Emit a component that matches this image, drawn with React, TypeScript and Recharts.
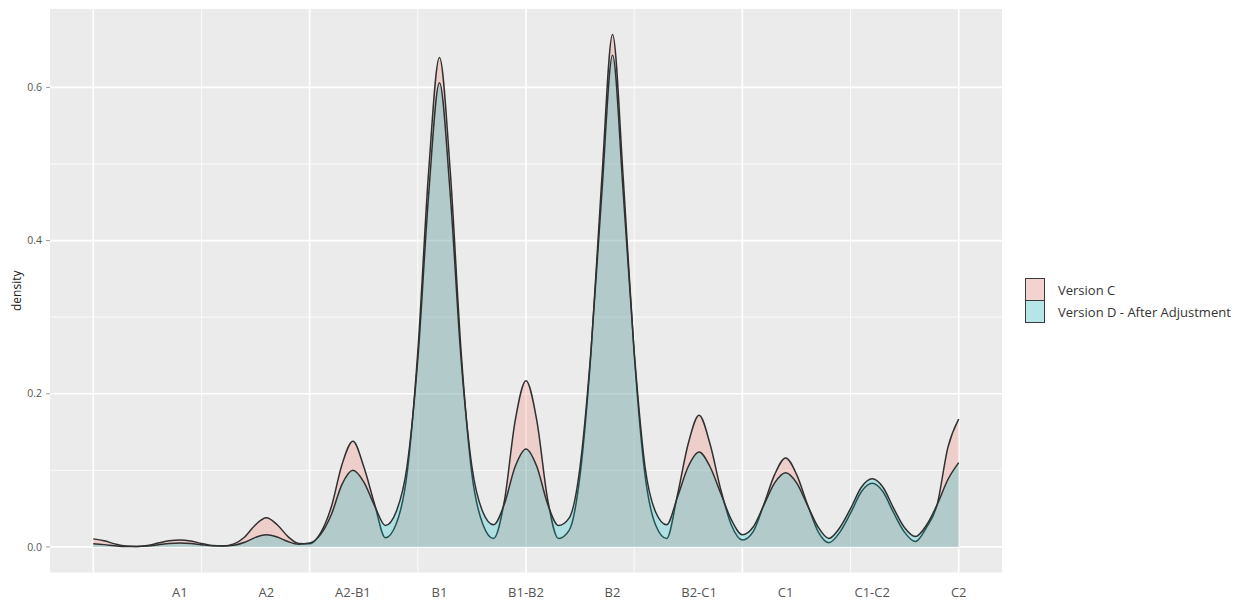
import React from "react";
import {
  Area,
  AreaChart,
  CartesianGrid,
  Label,
  Legend,
  XAxis,
  YAxis,
} from "recharts";

const FONT = '"Open Sans", "DejaVu Sans", sans-serif';
const FILL_ALPHA = 0.25;

// density grid, in category units (A1 = 1 ... C2 = 10)
const xGrid = [
  0, 0.125, 0.25, 0.375, 0.5, 0.625, 0.75, 0.875,
  1, 1.125, 1.25, 1.375, 1.5, 1.625, 1.75, 1.875,
  2, 2.125, 2.25, 2.375, 2.5, 2.625, 2.75, 2.875,
  3, 3.125, 3.25, 3.375, 3.5, 3.625, 3.75, 3.875,
  4, 4.125, 4.25, 4.375, 4.5, 4.625, 4.75, 4.875,
  5, 5.125, 5.25, 5.375, 5.5, 5.625, 5.75, 5.875,
  6, 6.125, 6.25, 6.375, 6.5, 6.625, 6.75, 6.875,
  7, 7.125, 7.25, 7.375, 7.5, 7.625, 7.75, 7.875,
  8, 8.125, 8.25, 8.375, 8.5, 8.625, 8.75, 8.875,
  9, 9.125, 9.25, 9.375, 9.5, 9.625, 9.75, 9.875,
  10,
];

const versionC = [
  0.0105, 0.008, 0.004, 0.0012, 0.0006, 0.002, 0.005, 0.008,
  0.0092, 0.0078, 0.0045, 0.0018, 0.0012, 0.004, 0.013, 0.029,
  0.038, 0.029, 0.0135, 0.0045, 0.004, 0.018, 0.052, 0.108,
  0.138, 0.105, 0.056, 0.012, 0.03, 0.095, 0.255, 0.49,
  0.639, 0.49, 0.255, 0.095, 0.03, 0.011, 0.06, 0.165,
  0.217, 0.165, 0.062, 0.011, 0.022, 0.094, 0.252, 0.479,
  0.669, 0.479, 0.252, 0.094, 0.028, 0.011, 0.068, 0.135,
  0.172, 0.135, 0.075, 0.028, 0.009, 0.02, 0.056, 0.095,
  0.116, 0.095, 0.056, 0.02, 0.0055, 0.019, 0.044, 0.072,
  0.083, 0.072, 0.044, 0.019, 0.007, 0.025, 0.055, 0.13,
  0.167,
];

const versionD = [
  0.004, 0.003, 0.0015, 0.0006, 0.0006, 0.0012, 0.0028, 0.0045,
  0.0052, 0.0045, 0.0028, 0.0014, 0.0012, 0.0022, 0.006, 0.0125,
  0.016, 0.013, 0.007, 0.0035, 0.005, 0.016, 0.042, 0.082,
  0.1, 0.085, 0.054, 0.028, 0.046, 0.105, 0.245, 0.46,
  0.606, 0.46, 0.245, 0.105, 0.046, 0.029, 0.056, 0.105,
  0.128, 0.105, 0.056, 0.028, 0.038, 0.105, 0.255, 0.46,
  0.642, 0.46, 0.255, 0.105, 0.045, 0.029, 0.065, 0.105,
  0.124, 0.105, 0.07, 0.035, 0.016, 0.026, 0.055, 0.084,
  0.097, 0.084, 0.055, 0.026, 0.011, 0.025, 0.05, 0.078,
  0.089, 0.078, 0.05, 0.025, 0.0135, 0.028, 0.055, 0.088,
  0.11,
];

const categories = ["A1", "A2", "A2-B1", "B1", "B1-B2", "B2", "B2-C1", "C1", "C1-C2", "C2"];
const categoryTicks = [1, 2, 3, 4, 5, 6, 7, 8, 9, 10];
const majorXBreaks = [0, 2.5, 5, 7.5, 10];
const minorXBreaks = [1.25, 3.75, 6.25, 8.75];
const yTicks = [0, 0.2, 0.4, 0.6];
const minorYBreaks = [0.1, 0.3, 0.5];

const xDomain = [-0.5, 10.5];
const yDomain = [-0.0334, 0.7024];

const seriesInfo = [
  { key: "versionC", name: "Version C", color: "#F8766D" },
  { key: "versionD", name: "Version D - After Adjustment", color: "#00BFC4" },
];

const data = xGrid.map((c, i) => ({
  c,
  versionC: versionC[i],
  versionD: versionD[i],
}));

function LegendBox() {
  return (
    <div style={{ fontFamily: FONT, fontSize: 13, color: "#333" }}>
      {seriesInfo.map((s, i) => (
        <div
          key={s.key}
          style={{
            display: "flex",
            alignItems: "center",
            height: 23,
            marginTop: i === 0 ? 0 : -1,
          }}
        >
          <div
            style={{
              position: "relative",
              width: 20,
              height: 23,
              boxSizing: "border-box",
              border: "1.3px solid #3a3a3a",
              background: "#F2F2F2",
            }}
          >
            <div
              style={{
                position: "absolute",
                inset: 0,
                background: s.color,
                opacity: FILL_ALPHA,
              }}
            />
          </div>
          <span style={{ marginLeft: 13, whiteSpace: "nowrap" }}>{s.name}</span>
        </div>
      ))}
    </div>
  );
}

export default function App() {
  return (
    <div
      style={{
        position: "absolute",
        left: 0,
        top: 0,
        width: 1246,
        height: 603,
        background: "#fff",
        fontFamily: FONT,
      }}
    >
      <AreaChart
        width={1246}
        height={603}
        data={data}
        margin={{ top: 9, right: 244, bottom: 0.5, left: 8 }}
      >
        <CartesianGrid
          xAxisId="cat"
          fill="#EBEBEB"
          stroke="#ffffff"
          strokeWidth={0.8}
          horizontalValues={minorYBreaks}
          verticalValues={minorXBreaks}
        />
        <CartesianGrid
          xAxisId="cat"
          fill="none"
          stroke="#ffffff"
          strokeWidth={1.6}
          horizontalValues={yTicks}
          verticalValues={majorXBreaks}
        />
        <XAxis
          xAxisId="marks"
          dataKey="c"
          type="number"
          domain={xDomain}
          ticks={majorXBreaks}
          tickFormatter={() => ""}
          axisLine={false}
          tickLine={{ stroke: "#9a9a9a" }}
          tickSize={4}
          height={0}
        />
        <XAxis
          xAxisId="cat"
          dataKey="c"
          type="number"
          domain={xDomain}
          ticks={categoryTicks}
          tickFormatter={(v: number) => categories[v - 1] ?? ""}
          axisLine={false}
          tickLine={false}
          tickSize={6}
          tickMargin={9}
          height={30}
          interval={0}
          tick={{ fontSize: 13, fill: "#555555", fontFamily: FONT }}
        />
        <YAxis
          type="number"
          domain={yDomain}
          ticks={yTicks}
          tickFormatter={(v: number) => v.toFixed(1)}
          axisLine={false}
          tickLine={{ stroke: "#9a9a9a" }}
          tickSize={4}
          tickMargin={4}
          width={42}
          interval={0}
          tick={{ fontSize: 10.5, fill: "#555555", fontFamily: FONT }}
        >
          <Label
            value="density"
            angle={-90}
            position="insideLeft"
            offset={9}
            style={{ textAnchor: "middle", fontSize: 12, fill: "#222", fontFamily: FONT }}
          />
        </YAxis>
        {seriesInfo.map((s) => (
          <Area
            key={s.key}
            xAxisId="cat"
            type="monotone"
            dataKey={s.key}
            name={s.name}
            fill={s.color}
            fillOpacity={FILL_ALPHA}
            stroke="#303030"
            strokeWidth={1.5}
            dot={false}
            activeDot={false}
            isAnimationActive={false}
          />
        ))}
        <Legend
          layout="horizontal"
          align="center"
          verticalAlign="middle"
          wrapperStyle={{ left: 1025, top: 278, width: 221 }}
          content={() => <LegendBox />}
        />
      </AreaChart>
    </div>
  );
}
